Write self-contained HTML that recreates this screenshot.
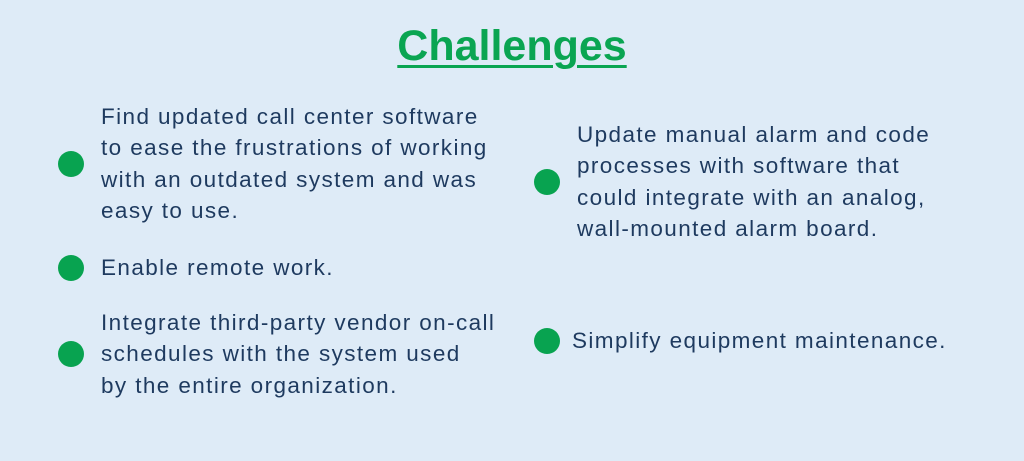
<!DOCTYPE html>
<html><head><meta charset="utf-8"><style>
html,body{margin:0;padding:0}
body{width:1024px;height:461px;background:#deebf7;position:relative;overflow:hidden;font-family:"Liberation Sans",sans-serif}
.t{position:absolute;left:0;width:1024px;top:21px;text-align:center;font-size:43px;font-weight:bold;color:#0aa552;text-decoration:underline;text-decoration-thickness:3px;text-underline-offset:5px;line-height:50px}
.d{position:absolute;width:26px;height:26px;border-radius:50%;background:#08a350}
.b{position:absolute;font-size:22.5px;letter-spacing:1.4px;line-height:31.3px;color:#1e3a5f;white-space:nowrap}
</style></head><body>
<div class="t">Challenges</div>
<div class="d" style="left:58px;top:151px"></div>
<div class="d" style="left:58px;top:255px"></div>
<div class="d" style="left:58px;top:341px"></div>
<div class="d" style="left:534px;top:169px"></div>
<div class="d" style="left:534px;top:328px"></div>
<div class="b" style="left:101px;top:101px">Find updated call center software<br>to ease the frustrations of working<br>with an outdated system and was<br>easy to use.</div>
<div class="b" style="left:101px;top:252px">Enable remote work.</div>
<div class="b" style="left:101px;top:307px">Integrate third-party vendor on-call<br>schedules with the system used<br>by the entire organization.</div>
<div class="b" style="left:577px;top:119px">Update manual alarm and code<br>processes with software that<br>could integrate with an analog,<br>wall-mounted alarm board.</div>
<div class="b" style="left:572px;top:325px">Simplify equipment maintenance.</div>
</body></html>
